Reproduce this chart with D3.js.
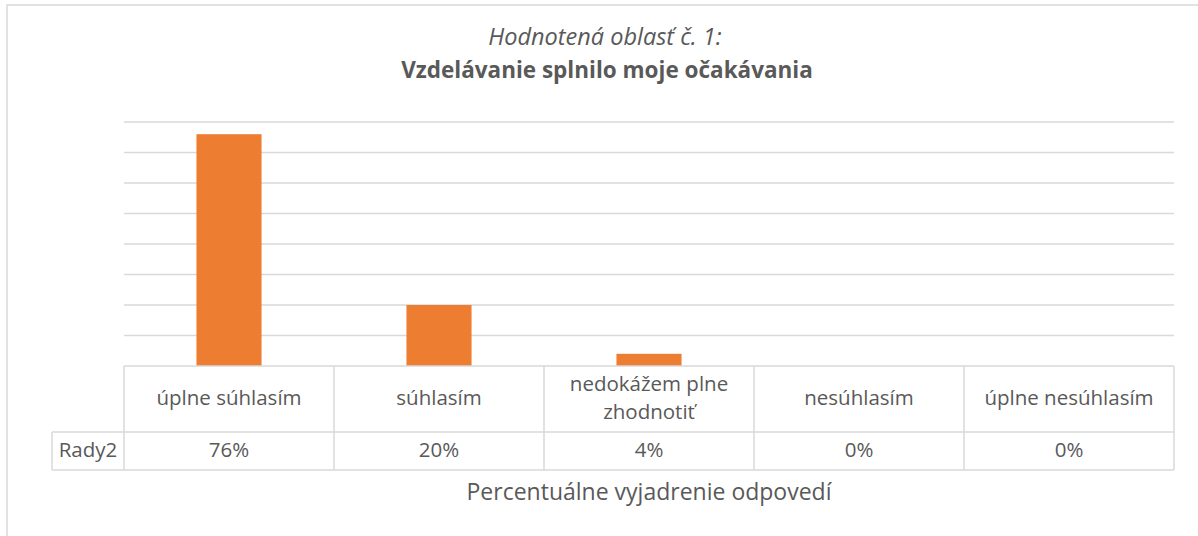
<!DOCTYPE html>
<html>
<head>
<meta charset="utf-8">
<script src="https://cdn.jsdelivr.net/npm/d3@7"></script>
<style>
  html, body { margin: 0; padding: 0; background: #fff; }
  svg text { font-family: "Open Sans", Lato, sans-serif; fill: #595959; }
</style>
</head>
<body>
<svg id="chart" width="1198" height="536"></svg>
<script>
// chart data
const categories = ['úplne súhlasím', 'súhlasím', 'nedokážem plne zhodnotiť', 'nesúhlasím', 'úplne nesúhlasím'];
const values = [0.76, 0.20, 0.04, 0, 0];
const valueLabels = ['76%', '20%', '4%', '0%', '0%'];
const seriesName = 'Rady2';
const gridTicks = [0.1, 0.2, 0.3, 0.4, 0.5, 0.6, 0.7, 0.8];
const titleLine1 = 'Hodnotená oblasť č. 1:';
const titleLine2 = 'Vzdelávanie splnilo moje očakávania';
const axisTitle = 'Percentuálne vyjadrenie odpovedí';

const svg = d3.select('#chart');
const lineCol = '#d9d9d9';
const barCol = '#ed7d31';

// plot area
const plotL = 124, plotR = 1174, plotT = 122, plotB = 366;
const rowMid = 432, rowBot = 470, labelLeft = 52;

const x = d3.scaleBand().domain(categories).range([plotL, plotR]).padding(0);
const y = d3.scaleLinear().domain([0, 0.8]).range([plotB, plotT]);
const barW = x.bandwidth() * 0.31;

// outer border
svg.append('rect')
    .attr('x', 7).attr('y', 5)
    .attr('width', 1300).attr('height', 600)
    .attr('fill', 'none')
    .attr('stroke', lineCol)
    .attr('stroke-width', 1.5);

// titles
svg.append('text')
    .attr('x', 605).attr('y', 45)
    .attr('text-anchor', 'middle')
    .style('font-size', '23.5px')
    .style('font-style', 'italic')
    .text(titleLine1);
svg.append('text')
    .attr('x', 607).attr('y', 78)
    .attr('text-anchor', 'middle')
    .style('font-size', '22.5px')
    .style('font-weight', 'bold')
    .text(titleLine2);

// gridlines
svg.append('g')
    .selectAll('line')
    .data(gridTicks)
    .enter()
      .append('line')
      .attr('x1', plotL).attr('x2', plotR)
      .attr('y1', d => y(d)).attr('y2', d => y(d))
      .attr('stroke', lineCol)
      .attr('stroke-width', 1.3);

// bars
svg.append('g')
    .selectAll('rect')
    .data(categories.map((c, i) => ({ c: c, v: values[i] })))
    .enter()
      .append('rect')
      .attr('x', d => x(d.c) + (x.bandwidth() - barW) / 2)
      .attr('y', d => y(d.v))
      .attr('width', barW)
      .attr('height', d => y(0) - y(d.v))
      .attr('fill', barCol);

// data table grid
const tbl = svg.append('g').attr('stroke', lineCol).attr('stroke-width', 1.5);
tbl.append('line').attr('x1', plotL).attr('x2', plotR).attr('y1', plotB).attr('y2', plotB);
tbl.append('line').attr('x1', labelLeft).attr('x2', plotR).attr('y1', rowMid).attr('y2', rowMid);
tbl.append('line').attr('x1', labelLeft).attr('x2', plotR).attr('y1', rowBot).attr('y2', rowBot);
tbl.append('line').attr('x1', labelLeft).attr('x2', labelLeft).attr('y1', rowMid).attr('y2', rowBot);
tbl.selectAll('line.col')
    .data(categories.map(c => x(c)).concat([plotR]))
    .enter()
      .append('line')
      .attr('class', 'col')
      .attr('x1', d => d).attr('x2', d => d)
      .attr('y1', plotB).attr('y2', rowBot);

// category labels (wrapped to cell width)
function wrapWords(str, maxW, size) {
  const tmp = svg.append('text').style('font-size', size + 'px');
  const words = str.split(' ');
  const lines = [];
  let cur = '';
  words.forEach(w => {
    const test = cur ? cur + ' ' + w : w;
    tmp.text(test);
    if (tmp.node().getComputedTextLength() > maxW && cur) {
      lines.push(cur);
      cur = w;
    } else {
      cur = test;
    }
  });
  lines.push(cur);
  tmp.remove();
  return lines;
}

const catSize = 20.5;
categories.forEach(c => {
  const lines = wrapWords(c, x.bandwidth() * 0.85, catSize);
  const lh = 28;
  const cy = (plotB + rowMid) / 2;
  const t = svg.append('text')
      .attr('text-anchor', 'middle')
      .style('font-size', catSize + 'px');
  lines.forEach((ln, i) => {
    t.append('tspan')
      .attr('x', x(c) + x.bandwidth() / 2)
      .attr('y', cy + 6 + (i - (lines.length - 1) / 2) * lh)
      .text(ln);
  });
});

// value row
svg.append('g')
    .selectAll('text')
    .data(categories.map((c, i) => ({ c: c, lab: valueLabels[i] })))
    .enter()
      .append('text')
      .attr('x', d => x(d.c) + x.bandwidth() / 2)
      .attr('y', (rowMid + rowBot) / 2 + 6)
      .attr('text-anchor', 'middle')
      .style('font-size', catSize + 'px')
      .text(d => d.lab);

svg.append('text')
    .attr('x', (labelLeft + plotL) / 2)
    .attr('y', (rowMid + rowBot) / 2 + 6)
    .attr('text-anchor', 'middle')
    .style('font-size', catSize + 'px')
    .text(seriesName);

// axis title
svg.append('text')
    .attr('x', (plotL + plotR) / 2)
    .attr('y', 500)
    .attr('text-anchor', 'middle')
    .style('font-size', '23px')
    .text(axisTitle);
</script>
</body>
</html>
